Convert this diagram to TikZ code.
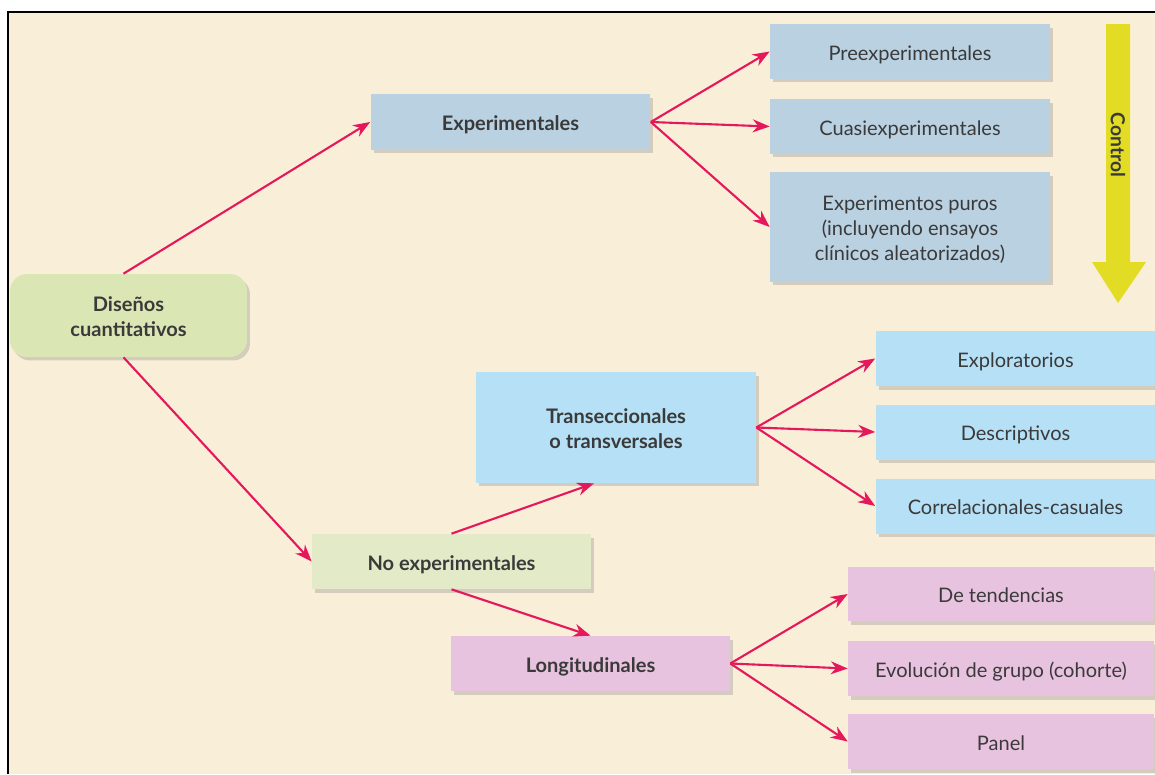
\documentclass[tikz,border=0pt]{standalone}
\usepackage{fontspec}
\setmainfont{Lato}
\usetikzlibrary{arrows.meta,shadows}

\definecolor{crema}{HTML}{F9EED8}
\definecolor{verde}{HTML}{DAE7B4}
\definecolor{verdeclaro}{HTML}{E2EAC8}
\definecolor{grisazul}{HTML}{B9D1E1}
\definecolor{celeste}{HTML}{B6E0F5}
\definecolor{rosa}{HTML}{E8C3DF}
\definecolor{flecha}{HTML}{E5185B}
\definecolor{amarillo}{HTML}{E2DC24}
\definecolor{texto}{HTML}{3A3A3A}

% baja un poco el texto dentro de la caja
\newcommand{\txt}[1]{\raisebox{-2pt}[\height][\depth]{\begin{tabular}{@{}c@{}}#1\end{tabular}}}

\tikzset{
  caja/.style={rectangle,inner sep=0pt,align=center,text=texto,
    font=\fontsize{11.4}{14.2}\selectfont,minimum width=5.6cm,minimum height=1.1cm,
    drop shadow={shadow xshift=0.06cm,shadow yshift=-0.07cm,opacity=0.3}},
  negrita/.style={font=\fontsize{11.4}{14.2}\selectfont\bfseries},
  flechita/.style={-{Stealth[length=0.34cm,width=0.26cm]},color=flecha,line width=1.2pt}
}

\begin{document}
\begin{tikzpicture}[x=0.02cm,y=-0.02cm]
    \useasboundingbox (0,0) rectangle (1155,774);
    \fill[white] (0,0) rectangle (1155,774);
    \fill[crema] (8,12) rectangle (1155,774);
    \draw[line width=1.2pt] (8,774) -- (8,12) -- (1155,12);

    % columna de control
    \fill[amarillo] (1106,24) -- (1130,24) -- (1130,262) -- (1146,262) -- (1118,303)
      -- (1092,262) -- (1106,262) -- cycle;
    \node[rotate=-90,text=texto,font=\fontsize{11}{13}\selectfont\bfseries] (ctl) at (1118,145) {Control};

    % nodos
    \node[caja,negrita,fill=verde,rounded corners=0.34cm,minimum width=4.74cm,minimum height=1.66cm]
      (dc) at (128.5,315.5) {\txt{Diseños\\cuantitativos}};

    \node[caja,negrita,fill=grisazul,minimum height=1.12cm] (ex) at (510.5,122) {\txt{Experimentales}};
    \node[caja,fill=grisazul] (pre) at (910,51.5) {\txt{Preexperimentales}};
    \node[caja,fill=grisazul] (cua) at (910,126.5) {\txt{Cuasiexperimentales}};
    \node[caja,fill=grisazul,minimum height=2.2cm] (pur) at (910,227)
      {\txt{Experimentos puros\\(incluyendo ensayos\\clínicos aleatorizados)}};

    \node[caja,negrita,fill=verdeclaro,minimum width=5.58cm] (ne) at (451.5,561.5) {\txt{No experimentales}};

    \node[caja,negrita,fill=celeste,minimum height=2.22cm] (tr) at (616,427.5) {\txt{Transeccionales\\o transversales}};
    \node[caja,fill=celeste] (exp) at (1015.5,358.5) {\txt{Exploratorios}};
    \node[caja,fill=celeste] (des) at (1015.5,432) {\txt{Descriptivos}};
    \node[caja,fill=celeste] (cor) at (1015.5,506) {\txt{Correlacionales-casuales}};

    \node[caja,negrita,fill=rosa,minimum width=5.58cm] (lo) at (590.5,663.5) {\txt{Longitudinales}};
    \node[caja,fill=rosa,minimum width=6.12cm,minimum height=1.08cm] (ten) at (1001,594) {\txt{De tendencias}};
    \node[caja,fill=rosa,minimum width=6.12cm] (evo) at (1001,668.5) {\txt{Evolución de grupo (cohorte)}};
    \node[caja,fill=rosa,minimum width=6.12cm] (pan) at (1001,741.5) {\txt{Panel}};

    % flechas
    \draw[flechita] ([xshift=-0.1cm]dc.north) -- (ex.west);
    \draw[flechita] ([xshift=-0.1cm]dc.south) -- (ne.west);
    \draw[flechita] (ex.east) -- (pre.west);
    \draw[flechita] (ex.east) -- (cua.west);
    \draw[flechita] (ex.east) -- (pur.west);
    \draw[flechita] (ne.north) -- ([xshift=-0.44cm]tr.south);
    \draw[flechita] (ne.south) -- (lo.north);
    \draw[flechita] (tr.east) -- (exp.west);
    \draw[flechita] (tr.east) -- (des.west);
    \draw[flechita] (tr.east) -- (cor.west);
    \draw[flechita] (lo.east) -- (ten.west);
    \draw[flechita] (lo.east) -- (evo.west);
    \draw[flechita] (lo.east) -- (pan.west);
\end{tikzpicture}
\end{document}
